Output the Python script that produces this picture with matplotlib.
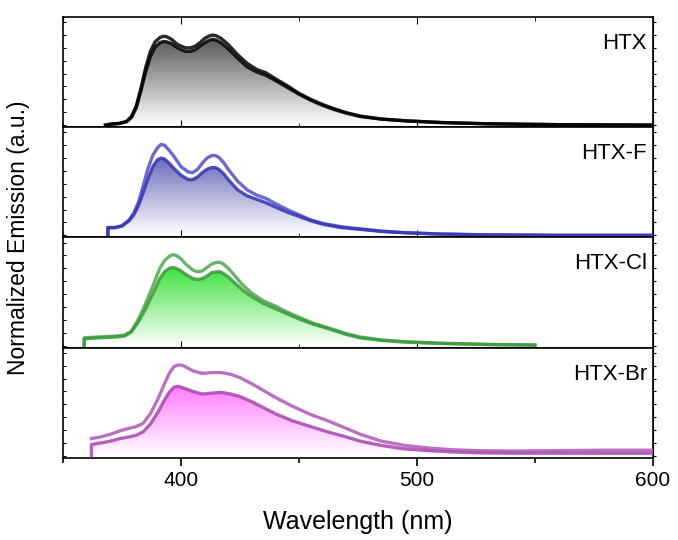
import numpy as np
import matplotlib
matplotlib.use('Agg')
import matplotlib.pyplot as plt
from matplotlib.colors import LinearSegmentedColormap
from matplotlib.ticker import MultipleLocator

plt.rcParams['font.family'] = ['Liberation Sans', 'DejaVu Sans']

# === data (wavelength nm, normalized emission) ===
names = ['HTX', 'HTX-F', 'HTX-Cl', 'HTX-Br']

htx_wl = [368, 370, 374, 377, 379, 381, 383, 385, 387, 389, 391, 392.5, 394, 396, 398, 400, 402, 404, 406, 408, 410,
          412, 413.5, 415, 417, 420, 424, 428, 432, 436, 440, 445, 450, 455, 460, 465, 470, 476, 485, 495, 510, 530, 560, 600]
htx_low = [0.0, 0.01, 0.02, 0.04, 0.09, 0.2, 0.4, 0.62, 0.8, 0.91, 0.96, 0.975, 0.97, 0.95, 0.91, 0.88, 0.86, 0.86, 0.88, 0.92, 0.96,
           0.99, 1.0, 0.99, 0.96, 0.89, 0.78, 0.68, 0.62, 0.58, 0.52, 0.44, 0.36, 0.29, 0.23, 0.18, 0.14, 0.1, 0.07, 0.05, 0.03, 0.015, 0.005, 0.0]
htx_up = [0.0, 0.01, 0.02, 0.045, 0.1, 0.22, 0.43, 0.67, 0.86, 0.97, 1.02, 1.035, 1.03, 1.0, 0.95, 0.92, 0.9, 0.9, 0.92, 0.96, 1.01,
          1.04, 1.05, 1.04, 1.01, 0.94, 0.82, 0.72, 0.65, 0.61, 0.54, 0.46, 0.37, 0.3, 0.24, 0.19, 0.145, 0.105, 0.07, 0.05, 0.03, 0.015, 0.005, 0.0]

f_wl = [369, 369, 372, 375, 378, 380, 382, 384, 386, 388, 390, 391.5, 393, 395, 397, 400, 403, 405, 407, 409, 411, 413, 414.5,
        416, 418, 420, 424, 428, 432, 436, 440, 445, 450, 455, 460, 468, 476, 485, 495, 510, 530, 560, 600]
f_low = [0.0, 0.09, 0.09, 0.11, 0.17, 0.24, 0.35, 0.5, 0.66, 0.8, 0.88, 0.9, 0.89, 0.84, 0.78, 0.7, 0.65, 0.65, 0.68, 0.73, 0.77, 0.79, 0.79,
         0.77, 0.72, 0.65, 0.53, 0.46, 0.42, 0.38, 0.33, 0.27, 0.22, 0.17, 0.13, 0.09, 0.07, 0.045, 0.03, 0.015, 0.005, 0.0, 0.0]
f_up = [0.0, 0.09, 0.09, 0.11, 0.18, 0.26, 0.39, 0.58, 0.78, 0.93, 1.02, 1.06, 1.05, 0.99, 0.92, 0.8, 0.74, 0.73, 0.77, 0.84, 0.9, 0.93, 0.93,
        0.91, 0.85, 0.77, 0.63, 0.53, 0.47, 0.43, 0.37, 0.3, 0.24, 0.18, 0.14, 0.1, 0.075, 0.05, 0.03, 0.015, 0.005, 0.0, 0.0]

cl_wl = [359, 359, 365, 372, 376, 379, 382, 385, 388, 391, 393, 395, 396.5, 398, 400, 402, 405, 407, 409, 411, 413, 415, 416.5,
         418, 420, 422, 426, 430, 435, 440, 445, 450, 456, 462, 470, 476, 485, 495, 510, 530, 550]
cl_low = [0.0, 0.08, 0.09, 0.1, 0.11, 0.16, 0.28, 0.43, 0.6, 0.78, 0.86, 0.9, 0.91, 0.9, 0.87, 0.83, 0.78, 0.77, 0.78, 0.81, 0.85, 0.86, 0.86,
          0.84, 0.8, 0.75, 0.65, 0.57, 0.49, 0.43, 0.37, 0.31, 0.25, 0.2, 0.13, 0.09, 0.06, 0.04, 0.025, 0.012, 0.005]
cl_up = [0.0, 0.09, 0.1, 0.11, 0.12, 0.17, 0.31, 0.49, 0.69, 0.9, 0.99, 1.04, 1.06, 1.05, 1.01, 0.95, 0.88, 0.86, 0.87, 0.91, 0.95, 0.97, 0.97,
         0.95, 0.9, 0.84, 0.71, 0.61, 0.52, 0.46, 0.39, 0.33, 0.26, 0.21, 0.14, 0.1, 0.065, 0.045, 0.027, 0.013, 0.006]

br_wl = [362, 362, 366, 370, 374, 378, 381, 384, 387, 390, 393, 395, 397, 399, 401, 405, 409, 413, 417, 421,
         425, 430, 435, 440, 447, 455, 462, 470, 476, 485, 495, 505, 515, 525, 540, 560, 580, 600]
br_low = [0.0, 0.13, 0.15, 0.17, 0.2, 0.22, 0.24, 0.28, 0.37, 0.5, 0.65, 0.74, 0.8, 0.81, 0.79, 0.75, 0.72, 0.73, 0.74, 0.72,
          0.69, 0.63, 0.56, 0.49, 0.41, 0.34, 0.28, 0.22, 0.17, 0.12, 0.08, 0.06, 0.045, 0.035, 0.03, 0.03, 0.03, 0.03]
br_up = [0.2, 0.2, 0.22, 0.25, 0.29, 0.32, 0.34, 0.38, 0.49, 0.65, 0.84, 0.96, 1.04, 1.06, 1.05, 0.99, 0.96, 0.97, 0.97, 0.95,
         0.91, 0.84, 0.76, 0.68, 0.58, 0.48, 0.41, 0.32, 0.25, 0.17, 0.12, 0.09, 0.07, 0.06, 0.055, 0.06, 0.065, 0.065]

wls = [htx_wl, f_wl, cl_wl, br_wl]
lows = [htx_low, f_low, cl_low, br_low]
ups = [htx_up, f_up, cl_up, br_up]

line_low = ['#000000', '#3434b4', '#3c9a3c', '#a646ae']
line_up = ['#111111', '#5a5ac8', '#5aac5a', '#b462bc']
fill_top = ['#5a5a5a', '#6a6abb', '#3ee03e', '#ff7cff']

fig, axes = plt.subplots(4, 1, figsize=(6.78, 5.40), dpi=100, sharex=True)
fig.subplots_adjust(left=0.093, right=0.963, top=0.9685, bottom=0.152, hspace=0)

for i, ax in enumerate(axes):
    x = np.array(wls[i], dtype=float)
    lo = np.array(lows[i])
    up = np.array(ups[i])

    # gradient fill under lower curve
    poly = ax.fill_between(x, 0, lo, color='none', lw=0)
    cmap = LinearSegmentedColormap.from_list('g' + str(i), ['#ffffff', fill_top[i]])
    grad = np.linspace(0, 1, 256).reshape(-1, 1)
    im = ax.imshow(grad, cmap=cmap, aspect='auto', origin='lower',
                   extent=[x.min(), x.max(), 0, lo.max()], zorder=1)
    im.set_clip_path(poly.get_paths()[0], transform=ax.transData)

    ax.plot(x, up, color=line_up[i], lw=2.4, alpha=0.9, zorder=3, solid_joinstyle='round')
    ax.plot(x, lo, color=line_low[i], lw=2.4, alpha=0.85, zorder=3, solid_joinstyle='round')

    ax.set_xlim(350, 600)
    ax.set_ylim(-0.025, 1.26)
    ax.text(0.99, 0.76, names[i], transform=ax.transAxes, ha='right', va='center', fontsize=16)

    ax.yaxis.set_major_locator(MultipleLocator(0.15))
    ax.tick_params(axis='y', which='both', left=True, direction='in', length=2.5, labelleft=False)
    sec = ax.secondary_yaxis('right')
    sec.yaxis.set_major_locator(MultipleLocator(0.15))
    sec.tick_params(axis='y', direction='out', length=2.5, labelright=False)

    ax.xaxis.set_major_locator(MultipleLocator(100))
    ax.xaxis.set_minor_locator(MultipleLocator(50))
    for sp in ax.spines.values():
        sp.set_linewidth(1.2)
    if i < 3:
        ax.tick_params(axis='x', which='both', direction='in', top=(i == 0), bottom=True,
                       labelbottom=False)
        ax.tick_params(axis='x', which='major', length=5)
        ax.tick_params(axis='x', which='minor', length=3)
    else:
        ax.tick_params(axis='x', which='major', direction='out', length=6, width=1.2, labelsize=15)
        ax.tick_params(axis='x', which='minor', direction='out', length=3.5, width=1.2)

axes[-1].set_xlabel('Wavelength (nm)', fontsize=18, labelpad=14)
fig.text(0.027, 0.56, 'Normalized Emission (a.u.)', rotation=90, ha='center', va='center', fontsize=16.5)

fig.savefig('out.png', dpi=100)
